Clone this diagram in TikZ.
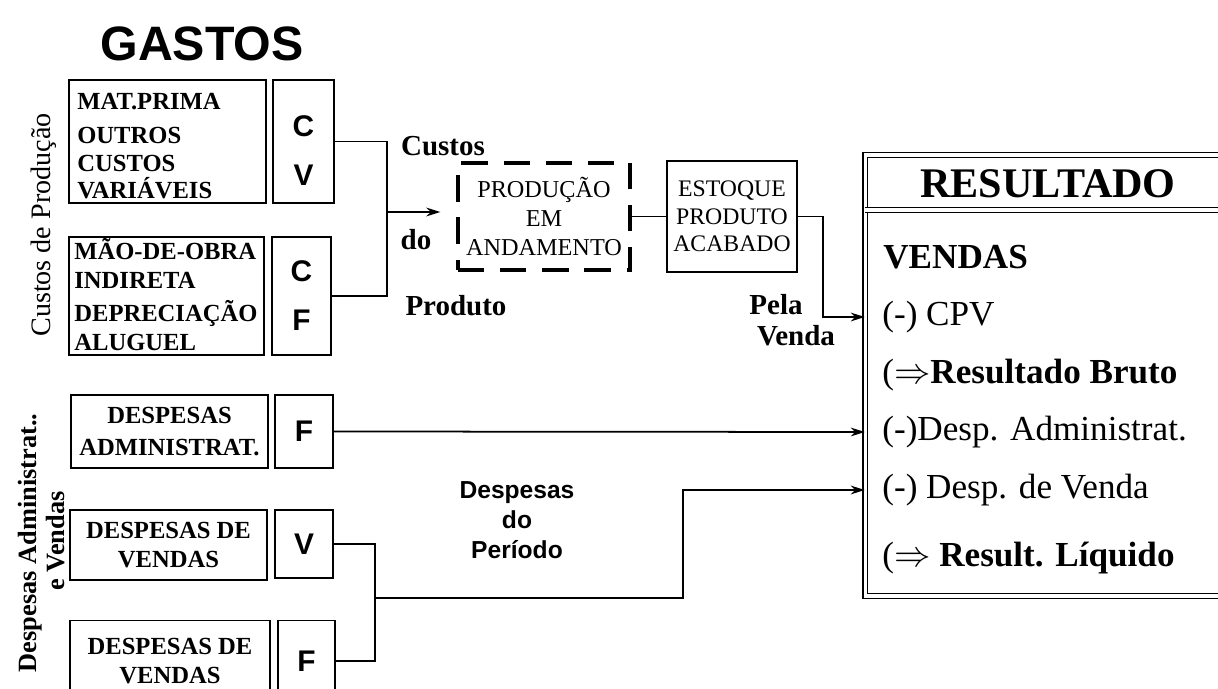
\documentclass[tikz,border=0pt]{standalone}
\usepackage{fontspec}
\setmainfont{Liberation Serif}
\setsansfont{Liberation Sans}
\usetikzlibrary{arrows.meta}

\begin{document}
\begin{tikzpicture}[x=0.02cm, y=-0.02cm,
    box/.style={draw, line width=1pt, inner sep=0pt},
    txt/.style={font=\fontsize{14}{16}\selectfont\bfseries},
    lefttxt/.style={txt, anchor=north west, inner sep=0pt, align=left},
    letra/.style={font=\fontsize{17}{20}\selectfont\sffamily\bfseries, inner sep=0pt},
    etapa/.style={box, font=\fontsize{13.8}{16.5}\selectfont, align=center},
    rotulo/.style={font=\fontsize{16.5}{18}\selectfont\bfseries},
    ritem/.style={anchor=west, inner sep=0pt, font=\fontsize{20}{22}\selectfont},
    dbl/.style={double, double distance=2pt, line width=0.7pt},
    lnk/.style={line width=1pt},
    arr/.style={lnk, -{Stealth[length=8pt, width=5pt]}}]
    \useasboundingbox (0,0) rectangle (1218,689);
    \clip (0,0) rectangle (1218,689);

    % Title and side labels
    \node[font=\fontsize{27.5}{30}\selectfont\sffamily\bfseries] (gastos) at (202,44) {GASTOS};
    \node[rotate=90, font=\fontsize{16}{18}\selectfont] (lcp) at (44,225) {Custos de Produção};
    \node[rotate=90, font=\fontsize{15}{18}\selectfont\bfseries] (lda) at (30,543) {Despesas Administrat..};
    \node[rotate=90, font=\fontsize{15}{18}\selectfont\bfseries] (lev) at (56,541) {e Vendas};

    % Custos de producao
    \node[box, minimum width=112pt, minimum height=70pt] (mp) at (167.5,141.5) {};
    \node[lefttxt, font=\fontsize{14}{15.5}\selectfont\bfseries] (mptxt) at (77,93)
        {MAT.PRIMA\\[4pt] OUTROS\\ CUSTOS\\ VARIÁVEIS};
    \node[box, minimum width=34.7pt, minimum height=70pt] (cv) at (303.5,141.5) {};
    \node[letra] (cvc) at (303.5,126) {C};
    \node[letra] (cvv) at (303.5,175) {V};
    \node[box, minimum width=111pt, minimum height=67pt] (mo) at (166.5,296) {};
    \node[lefttxt, font=\fontsize{14}{16.5}\selectfont\bfseries] (motxt) at (74,238)
        {MÃO-DE-OBRA\\ INDIRETA\\[2.5pt] DEPRECIAÇÃO\\ ALUGUEL};
    \node[box, minimum width=33.6pt, minimum height=67pt] (cf) at (301.5,296) {};
    \node[letra] (cfc) at (301.5,271) {C};
    \node[letra] (cff) at (301.5,320) {F};

    % Despesas
    \node[box, txt, align=center, minimum width=112pt, minimum height=41.5pt] (da) at (169.5,431.5)
        {DESPESAS\\[2pt]ADMINISTRAT.};
    \node[box, letra, minimum width=33pt, minimum height=41.5pt] (daf) at (304,431.5) {F};
    \node[box, txt, align=center, minimum width=112pt, minimum height=40pt] (dv) at (168.5,545)
        {DESPESAS DE\\VENDAS};
    \node[box, letra, minimum width=33pt, minimum height=38.5pt] (dvv) at (304,544) {V};
    \node[box, txt, align=center, minimum width=114pt, minimum height=46pt] (dvb) at (170,661)
        {DESPESAS DE\\VENDAS};
    \node[box, letra, minimum width=32.5pt, minimum height=46pt] (dvf) at (306.5,661) {F};

    % Producao e estoque
    \node[etapa, line width=2pt, dash pattern=on 15pt off 9pt, minimum width=98pt, minimum height=61pt]
        (pa) at (544,216.5) {PRODUÇÃO\\EM\\ANDAMENTO};
    \node[etapa, font=\fontsize{13.5}{15.6}\selectfont, minimum width=74pt, minimum height=63pt]
        (ep) at (732,216.5) {ESTOQUE\\PRODUTO\\ACABADO};

    % Labels on the flows
    \node[rotulo] (custos) at (443,146) {Custos};
    \node[rotulo] (do) at (416,240) {do};
    \node[rotulo] (produto) at (456,306) {Produto};
    \node[rotulo] (pela) at (776,305) {Pela};
    \node[rotulo] (venda) at (796,336) {Venda};
    \node[font=\fontsize{14}{17}\selectfont\sffamily\bfseries, align=center] (dperiodo) at (517,520)
        {Despesas\\do\\Período};

    % Resultado
    \node[dbl, draw, minimum width=213pt, minimum height=251pt, inner sep=0pt] (res) at (1052.5,375.5) {};
    \node[font=\fontsize{24}{26}\selectfont\bfseries] (rtitle) at (1048,184) {RESULTADO};
    \coordinate (div) at (0,210);
    \draw[dbl] (res.west |- div) -- (res.east |- div);
    \node[ritem, font=\fontsize{20}{22}\selectfont\bfseries] (vendas) at (883,257) {VENDAS};
    \node[ritem] (cpv) at (882,317) {(-) CPV};
    \node[ritem] (rbruto) at (882,375) {(${\Rightarrow}$\textbf{Resultado Bruto}};
    \node[ritem] (dadm) at (882,432) {(-)Desp. Administrat.};
    \node[ritem] (dvenda) at (882,490) {(-) Desp. de Venda};
    \node[ritem] (rliq) at (882,558) {(${\Rightarrow}$ \textbf{Result. Líquido}};

    % Connectors
    \coordinate (bj) at (387,212);
    \draw[lnk] (cv.east) -| (bj) |- (cf.east);
    \draw[arr, shorten >=9pt] (bj) -- (pa.west |- bj);
    \draw[lnk] (pa.east) -- (ep.west);
    \draw[arr] (ep.east) -- ++(25,0) |- (res.west |- cpv);
    \draw[arr] (daf.east) -- (res.west |- dadm);
    \coordinate (jv) at (375,598);
    \draw[lnk] (dvv.east) -| (jv) |- (dvf.east);
    \draw[arr] (jv) -- ++(308,0) |- (res.west |- dvenda);
\end{tikzpicture}
\end{document}
